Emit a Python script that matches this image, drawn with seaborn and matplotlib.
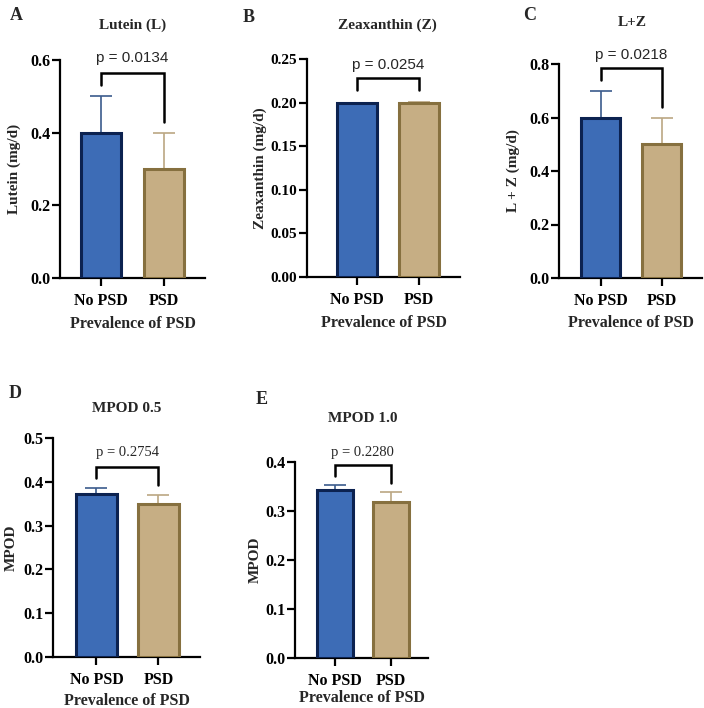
import matplotlib
matplotlib.use("Agg")
import matplotlib.pyplot as plt
import seaborn as sns
import numpy as np

# ---------------- data ----------------
categories = ["No PSD", "PSD"]

lutein_mean = [0.40, 0.30]
lutein_err = [0.10, 0.10]

zeax_mean = [0.20, 0.20]
zeax_err = [0.0, 0.001]

lz_mean = [0.60, 0.50]
lz_err = [0.10, 0.10]

mpod05_mean = [0.372, 0.349]
mpod05_err = [0.013, 0.021]

mpod10_mean = [0.342, 0.318]
mpod10_err = [0.012, 0.020]

p_values = ["p = 0.0134", "p = 0.0254", "p = 0.0218", "p = 0.2754", "p = 0.2280"]
titles = ["Lutein (L)", "Zeaxanthin (Z)", "L+Z", "MPOD 0.5", "MPOD 1.0"]
ylabels = ["Lutein (mg/d)", "Zeaxanthin (mg/d)", "L + Z (mg/d)", "MPOD", "MPOD"]
letters = ["A", "B", "C", "D", "E"]
yticks_A = [0.0, 0.2, 0.4, 0.6]
yticks_B = [0.00, 0.05, 0.10, 0.15, 0.20, 0.25]
yticks_C = [0.0, 0.2, 0.4, 0.6, 0.8]
yticks_D = [0.0, 0.1, 0.2, 0.3, 0.4, 0.5]
yticks_E = [0.0, 0.1, 0.2, 0.3, 0.4]
xlabel = "Prevalence of PSD"

# ---------------- style ----------------
sns.set_style("ticks")
plt.rcParams["font.family"] = ["Liberation Serif", "DejaVu Serif"]

W, H = 704, 708
fig = plt.figure(figsize=(W / 100, H / 100), dpi=100)

fill_colors = ["#3d6cb6", "#c6ae84"]
edge_colors = ["#0c2250", "#86703f"]
err_colors = ["#3b5b8c", "#bba783"]


def px_axes(x0, x1, ytop, ybot):
    return [x0 / W, 1 - ybot / H, (x1 - x0) / W, (ybot - ytop) / H]


panels = [
    dict(rect=px_axes(60, 205, 60, 278), mean=lutein_mean, err=lutein_err, ticks=yticks_A, fmt="%.1f",
         xlim=(-0.65, 1.65), width=0.62, br=(0.565, 0.531, 0.43), ptxt=0.606, psans=True,
         ylc=-0.27, xlc=-0.175, tfs=11.5, title=(133, 25), letter=(16, 15)),
    dict(rect=px_axes(307, 460, 59, 277), mean=zeax_mean, err=zeax_err, ticks=yticks_B, fmt="%.2f",
         xlim=(-0.81, 1.67), width=0.65, br=(0.228, 0.214, 0.214), ptxt=0.243, psans=True,
         ylc=-0.26, xlc=-0.175, tfs=11, title=(387, 25), letter=(249, 17)),
    dict(rect=px_axes(559, 702, 64, 278), mean=lz_mean, err=lz_err, ticks=yticks_C, fmt="%.1f",
         xlim=(-0.68, 1.66), width=0.64, br=(0.785, 0.74, 0.64), ptxt=0.834, psans=True,
         ylc=-0.273, xlc=-0.175, tfs=11.5, title=(632, 22), letter=(530, 15)),
    dict(rect=px_axes(53, 200, 438, 657), mean=mpod05_mean, err=mpod05_err, ticks=yticks_D, fmt="%.1f",
         xlim=(-0.70, 1.67), width=0.66, br=(0.434, 0.409, 0.393), ptxt=0.466, psans=False,
         ylc=-0.238, xlc=-0.164, tfs=11.5, title=(127, 408), letter=(15, 393)),
    dict(rect=px_axes(295, 428, 462, 658), mean=mpod10_mean, err=mpod10_err, ticks=yticks_E, fmt="%.1f",
         xlim=(-0.71, 1.66), width=0.64, br=(0.394, 0.371, 0.357), ptxt=0.42, psans=False,
         ylc=-0.248, xlc=-0.163, tfs=11.5, title=(363, 418), letter=(262, 400)),
]

for i, p in enumerate(panels):
    ax = fig.add_axes(p["rect"])
    sns.barplot(x=categories, y=p["mean"], hue=categories, palette=fill_colors, saturation=1,
                width=p["width"], errorbar=None, legend=False, ax=ax, zorder=3)
    for patch, ec in zip(ax.patches, edge_colors):
        patch.set_edgecolor(ec)
        patch.set_linewidth(2.2)
    xs = np.arange(len(categories))
    for j in range(len(categories)):
        if p["err"][j] > 0:
            ax.errorbar(xs[j], p["mean"][j], yerr=[[0], [p["err"][j]]], fmt="none",
                        ecolor=err_colors[j], elinewidth=1.2, capsize=8, capthick=1.2, zorder=2)
    # significance bracket
    top, lleg, rleg = p["br"]
    ax.plot([0, 0, 1, 1], [lleg, top, top, rleg], color="black", lw=1.8,
            solid_joinstyle="miter", clip_on=False, zorder=4)
    if p["psans"]:
        ax.text(0.5, p["ptxt"], p_values[i], ha="center", va="center", fontsize=11,
                family=["Liberation Sans", "DejaVu Sans"], clip_on=False)
    else:
        ax.text(0.5, p["ptxt"], p_values[i], ha="center", va="center", fontsize=10.5,
                clip_on=False)

    ax.set_xlim(*p["xlim"])
    ax.set_ylim(p["ticks"][0], p["ticks"][-1])
    ax.set_yticks(p["ticks"])
    ax.set_yticklabels([p["fmt"] % t for t in p["ticks"]])
    sns.despine(ax=ax)
    for s in ["left", "bottom"]:
        ax.spines[s].set_linewidth(1.6)
        ax.spines[s].set_color("black")
    ax.tick_params(axis="y", direction="out", length=6, width=1.6, colors="black",
                   labelsize=p["tfs"], pad=1)
    ax.tick_params(axis="x", direction="out", length=6, width=1.6, colors="black",
                   labelsize=11.5, pad=5)
    for lab in ax.get_xticklabels() + ax.get_yticklabels():
        lab.set_fontweight("bold")
    ax.set_ylabel(ylabels[i], fontsize=11, fontweight="bold")
    ax.yaxis.set_label_coords(p["ylc"], 0.5)
    ax.set_xlabel(xlabel, fontsize=11.5, fontweight="bold")
    ax.xaxis.set_label_coords(0.5, p["xlc"])

    tx, ty = p["title"]
    fig.text(tx / W, 1 - ty / H, titles[i], ha="center", va="center", fontsize=11, fontweight="bold")
    lx, ly = p["letter"]
    fig.text(lx / W, 1 - ly / H, letters[i], ha="center", va="center", fontsize=13, fontweight="bold")

fig.savefig("out.png", dpi=100)
